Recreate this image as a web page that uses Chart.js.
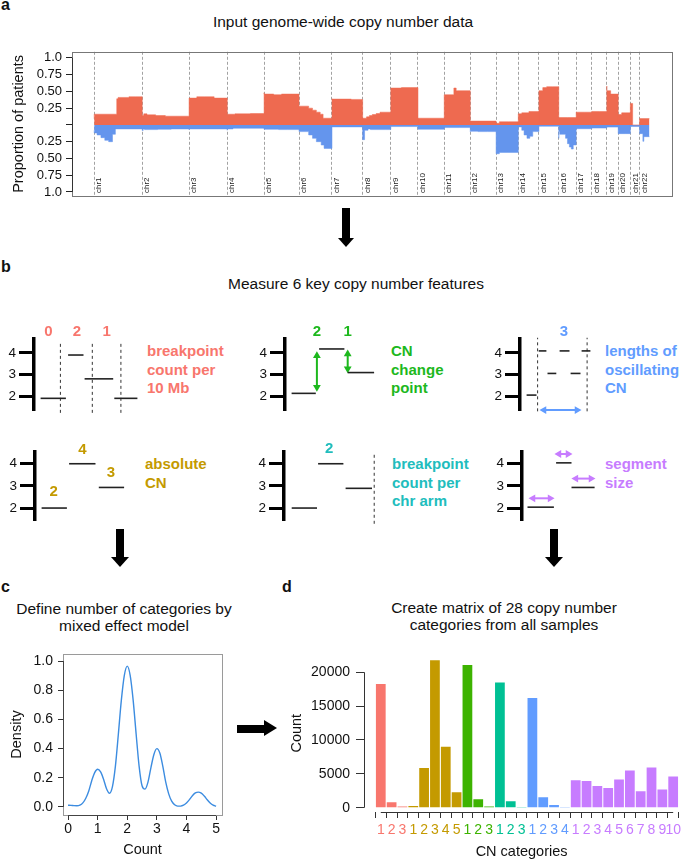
<!DOCTYPE html>
<html>
<head>
<meta charset="utf-8">
<script src="https://cdn.jsdelivr.net/npm/chart.js@4.4.1/dist/chart.umd.min.js"></script>
<style>
  body { margin: 0; background: #fff; width: 685px; height: 859px; position: relative; overflow: hidden;
         font-family: "Liberation Sans", Arial, Helvetica, sans-serif; color: #111; }
  canvas { position: absolute; }
  .t { position: absolute; white-space: nowrap; }
  .lab { font-weight: bold; font-size: 16px; line-height: 16px; }
  .title { font-size: 15.5px; line-height: 17px; text-align: center; transform: translateX(-50%); }
  .feat { font-weight: bold; font-size: 15px; line-height: 18.5px; }
  .blk { position: absolute; background: #000; }
  .head { position: absolute; width: 0; height: 0; border-style: solid; }
</style>
</head>
<body>

<!-- panel letters and titles -->
<div class="t lab" style="left:1px;top:-3.5px">a</div>
<div class="t lab" style="left:1px;top:258.5px">b</div>
<div class="t lab" style="left:1px;top:578.5px">c</div>
<div class="t lab" style="left:282px;top:578.5px">d</div>
<div class="t title" style="left:343px;top:12.5px">Input genome-wide copy number data</div>
<div class="t title" style="left:356px;top:274.5px">Measure 6 key copy number features</div>
<div class="t title" style="left:124px;top:599.5px">Define number of categories by<br>mixed effect model</div>
<div class="t title" style="left:504px;top:598.5px">Create matrix of 28 copy number<br>categories from all samples</div>

<!-- feature descriptions -->
<div class="t feat" style="left:147px;top:342px;color:#F8766D">breakpoint<br>count per<br>10 Mb</div>
<div class="t feat" style="left:391px;top:342px;color:#1DB81D">CN<br>change<br>point</div>
<div class="t feat" style="left:605px;top:342px;color:#619CFF">lengths of<br>oscillating<br>CN</div>
<div class="t feat" style="left:145px;top:455px;color:#C49A00">absolute<br>CN</div>
<div class="t feat" style="left:392px;top:455px;color:#21BDBD">breakpoint<br>count per<br>chr arm</div>
<div class="t feat" style="left:605px;top:455px;color:#C77CFF">segment<br>size</div>

<!-- block arrows -->
<div class="blk" style="left:342px;top:208px;width:8px;height:30px"></div>
<div class="head" style="left:338px;top:238px;border-width:9px 8px 0 8px;border-color:#000 transparent transparent transparent"></div>
<div class="blk" style="left:116px;top:529px;width:8px;height:28px"></div>
<div class="head" style="left:111px;top:557px;border-width:10px 9px 0 9px;border-color:#000 transparent transparent transparent"></div>
<div class="blk" style="left:550px;top:529px;width:8px;height:28px"></div>
<div class="head" style="left:545px;top:557px;border-width:10px 9px 0 9px;border-color:#000 transparent transparent transparent"></div>
<div class="blk" style="left:237px;top:725px;width:27px;height:8px"></div>
<div class="head" style="left:264px;top:720px;border-width:8.5px 0 8.5px 13px;border-color:transparent transparent transparent #000"></div>

<canvas id="genome" width="685" height="170" style="left:0;top:40px"></canvas>
<canvas id="s1" width="152" height="113" style="left:0;top:309px"></canvas>
<canvas id="s2" width="152" height="113" style="left:251px;top:309px"></canvas>
<canvas id="s3" width="152" height="113" style="left:486px;top:309px"></canvas>
<canvas id="s4" width="152" height="110" style="left:1px;top:422px"></canvas>
<canvas id="s5" width="152" height="110" style="left:250px;top:422px"></canvas>
<canvas id="s6" width="152" height="110" style="left:488px;top:422px"></canvas>
<canvas id="density" width="240" height="220" style="left:0;top:640px"></canvas>
<canvas id="counts" width="405" height="221" style="left:280px;top:640px"></canvas>

<script>
// ---- panel a: genome-wide gains / losses (proportion of patients) ----
const chrNames = ['chr1','chr2','chr3','chr4','chr5','chr6','chr7','chr8','chr9','chr10','chr11',
  'chr12','chr13','chr14','chr15','chr16','chr17','chr18','chr19','chr20','chr21','chr22'];
const chrLengthsMb = [249,243,198,191,181,171,159,146,141,136,135,134,115,107,103,90,81,78,59,63,48,51];

// [start within chromosome (Mb), proportion]
const gainSteps = [
  [[0,0.09],[117,0.16],[124,0.39],[180,0.41],[215,0.42]],
  [[0,0.11],[8,0.14],[25,0.165],[70,0.15],[120,0.14],[180,0.13]],
  [[0,0.39],[40,0.40],[80,0.42],[130,0.42],[160,0.40]],
  [[0,0.175],[40,0.16],[120,0.165],[160,0.17]],
  [[0,0.48],[50,0.46],[90,0.45],[140,0.46]],
  [[0,0.31],[50,0.28],[70,0.25],[90,0.22],[110,0.19],[125,0.16],[140,0.10]],
  [[0,0.39],[100,0.385],[140,0.38]],
  [[0,0.075],[20,0.10],[35,0.12],[50,0.14],[70,0.155],[90,0.17],[110,0.19]],
  [[0,0.53],[55,0.55],[100,0.556]],
  [[0,0.04],[20,0.10]],
  [[0,0.415],[50,0.45],[62,0.55],[68,0.51]],
  [[0,0.07],[45,0.057]],
  [[0,0],[17,0.024],[65,0.047]],
  [[0,0],[18,0.165],[55,0.18],[80,0.20]],
  [[0,0],[20,0.51],[40,0.556],[70,0.57]],
  [[0,0.14],[45,0.11]],
  [[0,0.13],[45,0.19]],
  [[0,0.19],[40,0.20]],
  [[0,0.58],[20,0.51],[35,0.46]],
  [[0,0.024],[18,0.155],[40,0.18]],
  [[0,0],[12,0.32],[44,0]],
  [[0,0],[17,0.094]]
];
const lossSteps = [
  [[0,0.08],[15,0.12],[35,0.15],[55,0.19],[75,0.23],[95,0.25],[110,0.14],[120,0.06]],
  [[0,0.06],[5,0.085],[12,0.06],[80,0.07],[150,0.065],[200,0.06]],
  [[0,0.07],[100,0.06]],
  [[0,0.08],[30,0.06],[100,0.05]],
  [[0,0.035],[75,0.065],[120,0.07]],
  [[0,0.065],[50,0.10],[70,0.15],[90,0.20],[115,0.25],[130,0.30],[143,0.35]],
  [[0,0.03]],
  [[0,0.20],[10,0.22],[28,0.08],[40,0.06],[120,0.07]],
  [[0,0.025]],
  [[0,0.065]],
  [[0,0.033],[80,0.04]],
  [[0,0.10],[40,0.095],[90,0.10]],
  [[0,0],[17,0.43],[60,0.41]],
  [[0,0],[18,0.03],[30,0.08],[45,0.15],[60,0.20],[75,0.17],[85,0.10]],
  [[0,0],[20,0.02]],
  [[0,0.20],[5,0.10],[35,0.14],[45,0.20],[55,0.28],[65,0.33],[75,0.36],[85,0.30]],
  [[0,0.057]],
  [[0,0.047]],
  [[0,0.033]],
  [[0,0.08],[40,0.13]],
  [[0,0],[12,0.024]],
  [[0,0],[17,0.13],[22,0.245],[28,0.175]]
];
const aTickValues = [-1, -0.75, -0.5, -0.25, 0, 0.25, 0.5, 0.75, 1];
const aTickLabels = ['1.0', '0.75', '0.50', '0.25', '', '0.25', '0.50', '0.75', '1.0'];

// ---- panel b: schematic copy number segments [start, end, CN] ----
const s1Segments = [[6,29,1.9],[31,45,3.9],[46,72,2.8],[73,94,1.9]];
const s1Windows = [24, 53, 79];
const s1Counts = [[13,4.95,'0'],[39,4.95,'2'],[66,4.95,'1']];
const s2Segments = [[6,28,2.13],[31,54,4.18],[57,81,3.09]];
const s2Changes = [[29,3.87,29,2.41],[57,3.95,57,3.27]];
const s2Counts = [[29,4.95,'2'],[57,4.95,'1']];
const s3Segments = [[6,15,2.05],[17,24,4.09],[25,33,3.05],[36,45,4.09],[46,55,3.05],[56,64,4.09]];
const s3Bounds = [16, 61];
const s3Span = [[21.8,1.36,51.8,1.36]];
const s3Counts = [[40,4.95,'3']];
const s4Segments = [[6,29,2],[31,55,4],[58,81,2.93]];
const s4Counts = [[17,2.71,'2'],[43,4.62,'4'],[69,3.6,'3']];
const s5Segments = [[7,30,2],[31,54,4],[56,80,2.89]];
const s5Arm = [82];
const s5Counts = [[41,4.67,'2']];
const s6Segments = [[5,29,2.04],[31,45,4.04],[45,66,2.93]];
const s6Sizes = [[10,2.44,25.5,2.44],[33.6,4.44,41.8,4.44],[49,3.33,62.7,3.33]];

// ---- panel c: density of counts ----
const densityX = [0,0.1,0.2,0.3,0.4,0.5,0.6,0.7,0.8,0.9,1.0,1.1,1.2,1.3,1.4,1.5,1.6,1.7,1.8,1.9,2.0,
  2.1,2.2,2.3,2.4,2.5,2.6,2.7,2.8,2.9,3.0,3.1,3.2,3.3,3.4,3.5,3.6,3.7,3.8,3.9,4.0,4.1,4.2,4.3,4.4,4.5,4.6,4.7,4.8,4.9,5.0];
const densityY = [0.012,0.011,0.009,0.008,0.012,0.028,0.06,0.11,0.18,0.235,0.258,0.24,0.19,0.125,0.094,0.14,0.28,0.50,0.73,0.90,0.965,
  0.90,0.73,0.50,0.28,0.145,0.122,0.17,0.27,0.36,0.40,0.37,0.28,0.17,0.09,0.04,0.015,0.006,0.006,0.012,0.027,0.05,0.077,0.096,0.102,0.095,0.075,0.05,0.027,0.012,0.005];
const densityXTicks = [0, 1, 2, 3, 4, 5];
const densityYTicks = [0, 0.2, 0.4, 0.6, 0.8, 1.0];

// ---- panel d: counts per CN category ----
const groupColors = ['#F8766D', '#C49A00', '#3DB300', '#00C094', '#619CFF', '#C77CFF'];
const cnLabels = ['1','2','3','1','2','3','4','5','1','2','3','1','2','3','1','2','3','4','1','2','3','4','5','6','7','8','9','10'];
const cnGroup = [0,0,0,1,1,1,1,1,2,2,2,3,3,3,4,4,4,4,5,5,5,5,5,5,5,5,5,5];
const cnCounts = [18250,800,200,250,5850,21750,9000,2300,21070,1270,200,18500,970,50,16200,1560,400,100,
  4040,3940,3200,2920,4180,5500,2430,5940,2680,4620];
const countTicks = [0, 5000, 10000, 15000, 20000];

Chart.defaults.font.family = '"Liberation Sans", Arial, Helvetica, sans-serif';
Chart.defaults.color = '#111';
Chart.defaults.animation = false;
Chart.defaults.responsive = false;
Chart.defaults.devicePixelRatio = 1;
Chart.defaults.events = [];
Chart.defaults.plugins.legend.display = false;
Chart.defaults.plugins.tooltip.enabled = false;

// box round the plot region, like R's box()
const boxPlugin = {
  id: 'box',
  afterDatasetsDraw(chart, args, opts) {
    const a = chart.chartArea, ctx = chart.ctx;
    ctx.save();
    ctx.strokeStyle = opts.color || '#888';
    ctx.lineWidth = 1;
    ctx.strokeRect(Math.round(a.left) + 0.5, Math.round(a.top) + 0.5, Math.round(a.right - a.left), Math.round(a.bottom - a.top));
    ctx.restore();
  }
};

// axis lines that only span first..last tick
const rAxisPlugin = {
  id: 'rAxis',
  afterDatasetsDraw(chart, args, opts) {
    const ctx = chart.ctx, a = chart.chartArea;
    ctx.save();
    ctx.strokeStyle = opts.color || '#333';
    ctx.lineWidth = 1;
    ctx.beginPath();
    if (opts.x) {
      const y = Math.round(a.bottom) + 0.5;
      ctx.moveTo(chart.scales.x.getPixelForValue(opts.x[0]), y);
      ctx.lineTo(chart.scales.x.getPixelForValue(opts.x[1]), y);
    }
    if (opts.y) {
      const x = Math.round(a.left) + 0.5;
      ctx.moveTo(x, chart.scales.y.getPixelForValue(opts.y[0]));
      ctx.lineTo(x, chart.scales.y.getPixelForValue(opts.y[1]));
    }
    ctx.stroke();
    ctx.restore();
  }
};

const chrLabelPlugin = {
  id: 'chrLabels',
  afterDatasetsDraw(chart) {
    const xs = chart.scales.x, ctx = chart.ctx, bottom = chart.chartArea.bottom;
    ctx.save();
    ctx.font = '8px "Liberation Sans", Arial, sans-serif';
    ctx.fillStyle = '#222';
    ctx.textAlign = 'left';
    ctx.textBaseline = 'middle';
    chrNames.forEach((name, i) => {
      ctx.save();
      ctx.translate(xs.getPixelForValue(chrStarts[i]) + 5, bottom - 3);
      ctx.rotate(-Math.PI / 2);
      ctx.fillText(name, 0, 0);
      ctx.restore();
    });
    ctx.restore();
  }
};

// coloured numbers in the schematics
const marksPlugin = {
  id: 'marks',
  afterDatasetsDraw(chart, args, opts) {
    if (!opts.items) return;
    const ctx = chart.ctx;
    ctx.save();
    ctx.font = 'bold 15px "Liberation Sans", Arial, sans-serif';
    ctx.fillStyle = opts.color;
    ctx.textAlign = 'center';
    ctx.textBaseline = 'middle';
    opts.items.forEach(m => ctx.fillText(m[2], chart.scales.x.getPixelForValue(m[0]), chart.scales.y.getPixelForValue(m[1])));
    ctx.restore();
  }
};

const chrStarts = [];
chrLengthsMb.reduce((acc, len) => { chrStarts.push(acc); return acc + len; }, 0);

function stepPoints(steps, sign) {
  const pts = [];
  chrLengthsMb.forEach((len, i) => {
    const st = chrStarts[i];
    steps[i].forEach(s => pts.push({ x: st + s[0], y: sign * s[1] }));
    pts.push({ x: st + len, y: sign * steps[i][steps[i].length - 1][1] });
  });
  return pts;
}

// --- panel a ---
new Chart(document.getElementById('genome'), {
  type: 'line',
  data: {
    datasets: [
      { data: stepPoints(gainSteps, 1), stepped: 'after', fill: 'origin', backgroundColor: '#EE6A50',
        borderColor: '#EE6A50', borderWidth: 0.5, pointRadius: 0 },
      { data: stepPoints(lossSteps, -1), stepped: 'after', fill: 'origin', backgroundColor: '#6495ED',
        borderColor: '#6495ED', borderWidth: 0.5, pointRadius: 0 }
    ]
  },
  options: {
    layout: { padding: { top: 4, right: 13, bottom: 14, left: 0 } },
    scales: {
      x: {
        type: 'linear', min: -115, max: 2996,
        afterBuildTicks: s => { s.ticks = chrStarts.map(v => ({ value: v })); },
        afterFit: s => { s.height = 0; },
        ticks: { display: false },
        grid: { drawTicks: false, color: '#8a8a8a', lineWidth: 0.8 },
        border: { display: false, dash: [3, 2] }
      },
      y: {
        min: -1.06, max: 1.09,
        afterBuildTicks: s => { s.ticks = aTickValues.map(v => ({ value: v })); },
        afterFit: s => { s.width = 72; },
        ticks: { padding: 4, font: { size: 13 }, callback: (v, i) => aTickLabels[i] },
        grid: { drawOnChartArea: false, tickLength: 6, tickColor: '#222' },
        border: { display: false },
        title: { display: true, text: 'Proportion of patients', font: { size: 14.5 }, padding: { top: 10, bottom: 0 } }
      }
    },
    plugins: { box: { color: '#777' }, rAxis: { y: [-1, 1], color: '#333' } }
  },
  plugins: [boxPlugin, rAxisPlugin, chrLabelPlugin]
});

// --- panel b schematics ---
function lineSet(p1, p2, color, width, dash) {
  return { data: [p1, p2], borderColor: color, borderWidth: width, borderDash: dash || [],
           pointRadius: 0, fill: false, clip: false };
}
function arrowSet(a, color) {
  const vertical = a[0] === a[2];
  return {
    data: [{ x: a[0], y: a[1] }, { x: a[2], y: a[3] }],
    borderColor: color, borderWidth: 2, fill: false, clip: false,
    pointStyle: 'triangle', pointRadius: 4.5, pointBorderWidth: 0,
    pointBackgroundColor: color,
    pointRotation: vertical ? [0, 180] : [270, 90]
  };
}
function schematic(id, row, cfg) {
  const yr = row === 1 ? [1.32, 4.64] : [1.42, 4.53];
  const ds = [];
  cfg.segments.forEach(s => ds.push(lineSet({ x: s[0], y: s[2] }, { x: s[1], y: s[2] }, '#222', 1.6)));
  (cfg.dashes || []).forEach(d => ds.push(lineSet({ x: d[0], y: d[1] }, { x: d[0], y: d[2] }, '#333', 1, [3, 3])));
  (cfg.arrows || []).forEach(a => ds.push(arrowSet(a, cfg.color)));
  new Chart(document.getElementById(id), {
    type: 'line',
    data: { datasets: ds },
    options: {
      layout: { padding: { top: 30, right: 8, bottom: 10, left: 0 } },
      scales: {
        x: { type: 'linear', min: 0, max: 100, display: false },
        y: {
          min: yr[0], max: yr[1],
          afterBuildTicks: s => { s.ticks = [2, 3, 4].map(v => ({ value: v })); },
          afterFit: s => { s.width = 34; },
          ticks: { padding: 3, font: { size: 13.5 }, color: '#111' },
          grid: { drawOnChartArea: false, tickLength: 15, tickWidth: 3, tickColor: '#000' },
          border: { color: '#000', width: 3.5 }
        }
      },
      plugins: { marks: { items: cfg.counts, color: cfg.color } }
    },
    plugins: [marksPlugin]
  });
}

schematic('s1', 1, { segments: s1Segments, dashes: s1Windows.map(x => [x, 1.23, 4.5]), counts: s1Counts, color: '#F8766D' });
schematic('s2', 1, { segments: s2Segments, arrows: s2Changes, counts: s2Counts, color: '#1DB81D' });
schematic('s3', 1, { segments: s3Segments, dashes: s3Bounds.map(x => [x, 1.3, 4.7]), arrows: s3Span, counts: s3Counts, color: '#619CFF' });
schematic('s4', 2, { segments: s4Segments, counts: s4Counts, color: '#C49A00' });
schematic('s5', 2, { segments: s5Segments, dashes: s5Arm.map(x => [x, 1.29, 4.49]), counts: s5Counts, color: '#21BDBD' });
schematic('s6', 2, { segments: s6Segments, arrows: s6Sizes, color: '#C77CFF' });

// --- panel c ---
new Chart(document.getElementById('density'), {
  type: 'line',
  data: {
    datasets: [{
      data: densityX.map((x, i) => ({ x: x, y: densityY[i] })),
      borderColor: '#3C8CE0', borderWidth: 1.4, pointRadius: 0, fill: false,
      cubicInterpolationMode: 'monotone'
    }]
  },
  options: {
    layout: { padding: { top: 14, right: 18, bottom: 0, left: 0 } },
    scales: {
      x: {
        type: 'linear', min: -0.17, max: 5.2,
        afterBuildTicks: s => { s.ticks = densityXTicks.map(v => ({ value: v })); },
        afterFit: s => { s.height = 45; },
        ticks: { padding: 1, font: { size: 14 }, maxRotation: 0 },
        grid: { drawOnChartArea: false, tickLength: 5, tickColor: '#333' },
        border: { display: false },
        title: { display: true, text: 'Count', font: { size: 14.5 }, padding: { top: 0, bottom: 1.3 } }
      },
      y: {
        min: -0.055, max: 1.048,
        afterBuildTicks: s => { s.ticks = densityYTicks.map(v => ({ value: v })); },
        afterFit: s => { s.width = 63; },
        ticks: { padding: 5, font: { size: 14 }, callback: v => v.toFixed(1) },
        grid: { drawOnChartArea: false, tickLength: 5, tickColor: '#333' },
        border: { display: false },
        title: { display: true, text: 'Density', font: { size: 14.5 }, padding: { top: 8.3, bottom: 0 } }
      }
    },
    plugins: { box: { color: '#9a9a9a' }, rAxis: { x: [0, 5], y: [0, 1], color: '#444' } }
  },
  plugins: [boxPlugin, rAxisPlugin]
});

// --- panel d ---
new Chart(document.getElementById('counts'), {
  type: 'bar',
  data: {
    datasets: [{
      data: cnCounts.map((v, i) => ({ x: i, y: v })),
      backgroundColor: cnGroup.map(g => groupColors[g]),
      borderWidth: 0, categoryPercentage: 1, barPercentage: 0.9
    }]
  },
  options: {
    layout: { padding: { top: 12.9, right: 2, bottom: 0, left: 0 } },
    scales: {
      x: {
        type: 'linear', min: -1.55, max: 27.55, offset: false,
        afterBuildTicks: s => { s.ticks = cnLabels.map((l, i) => ({ value: i })); },
        afterFit: s => { s.height = 49; },
        ticks: { padding: 4, font: { size: 14 }, autoSkip: false, maxRotation: 0,
                 callback: (v, i) => cnLabels[i], color: ctx => groupColors[cnGroup[ctx.index]] },
        grid: { drawOnChartArea: false, tickLength: 6, tickColor: '#333' },
        border: { display: false },
        title: { display: true, text: 'CN categories', font: { size: 14.5 }, padding: { top: 0, bottom: 0.3 } }
      },
      y: {
        min: -630, max: 22630,
        afterBuildTicks: s => { s.ticks = countTicks.map(v => ({ value: v })); },
        afterFit: s => { s.width = 84; },
        ticks: { padding: 6, font: { size: 14 }, callback: v => String(v) },
        grid: { drawOnChartArea: false, tickLength: 8, tickColor: '#333' },
        border: { display: false },
        title: { display: true, text: 'Count', font: { size: 14.5 }, padding: { top: 8.3, bottom: 0 } }
      }
    },
    plugins: { rAxis: { x: [0, 27], y: [0, 20000], color: '#333' } }
  },
  plugins: [rAxisPlugin]
});
</script>
</body>
</html>
